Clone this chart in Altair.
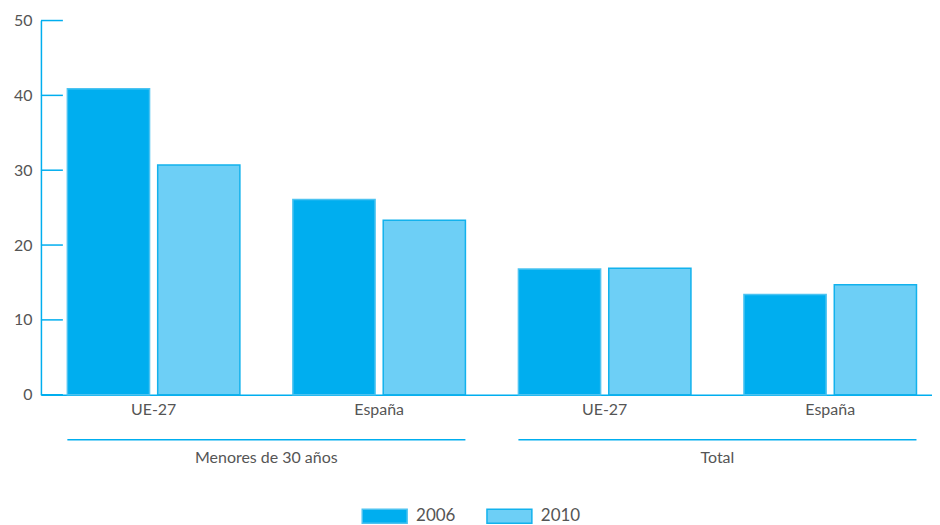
import altair as alt
import pandas as pd

# ---- data ----
groups = ["Menores de 30 años", "Menores de 30 años", "Total", "Total"]
countries = ["UE-27", "España", "UE-27", "España"]
years = ["2006", "2010"]
values_2006 = [40.9, 26.1, 16.8, 13.4]
values_2010 = [30.7, 23.3, 16.9, 14.7]
y_ticks = [0, 10, 20, 30, 40, 50]
group_names = ["Menores de 30 años", "Total"]

keys = [f"{g}|{c}" for g, c in zip(groups, countries)]

rows = []
for k, v in zip(keys, values_2006):
    rows.append({"key": k, "year": years[0], "value": v})
for k, v in zip(keys, values_2010):
    rows.append({"key": k, "year": years[1], "value": v})
bars_df = pd.DataFrame(rows)

grp_df = pd.DataFrame({
    "start": [keys[0], keys[2]],
    "end": [keys[1], keys[3]],
    "name": group_names,
})
ticks_df = pd.DataFrame({"v": y_ticks})

BLUE = "#00AEEF"
LIGHT = "#6DCFF6"
TEXT = "#555555"
FONT = "Lato"
FS = 16
W, H = 893, 375

xscale = alt.Scale(domain=keys, paddingInner=0.235, paddingOuter=0.093, align=0.63)
yscale = alt.Scale(domain=[0, 50], nice=False)

legend_kw = dict(title=None, orient="none", direction="horizontal",
                 legendX=321, legendY=473,
                 symbolType="M-1,-0.31L1,-0.31L1,0.31L-1,0.31Z",
                 symbolSize=2025, labelFontSize=17, labelColor=TEXT,
                 labelFont=FONT, labelOffset=8, columnPadding=28,
                 symbolStrokeWidth=1.5)

bars = alt.Chart(bars_df).mark_bar(strokeWidth=1.5).encode(
    x=alt.X("key:N", scale=xscale, sort=keys,
            axis=alt.Axis(title=None, labelExpr="split(datum.label, '|')[1]",
                          ticks=False, grid=False, domainColor=BLUE, domainWidth=1.5,
                          labelAngle=0, labelPadding=7, labelFontSize=FS,
                          labelColor=TEXT, labelFont=FONT)),
    xOffset=alt.XOffset("year:N", scale=alt.Scale(paddingInner=0.09)),
    y=alt.Y("value:Q", scale=yscale,
            axis=alt.Axis(title=None, values=y_ticks, ticks=False, grid=False,
                          domainColor=BLUE, domainWidth=1.5, labelPadding=9,
                          labelFontSize=FS, labelColor=TEXT, labelFont=FONT)),
    fill=alt.Fill("year:N", scale=alt.Scale(domain=years, range=[BLUE, LIGHT]),
                  legend=alt.Legend(**legend_kw)),
    stroke=alt.Stroke("year:N", scale=alt.Scale(domain=years, range=["#4cc3f1", "#12b2ed"]),
                      legend=alt.Legend(**legend_kw)),
)

yticks = alt.Chart(ticks_df).mark_rule(color=BLUE, strokeWidth=1.5).encode(
    x=alt.value(0), x2=alt.value(22), y=alt.Y("v:Q", scale=yscale)
)

grp_rule = alt.Chart(grp_df).mark_rule(color=BLUE, strokeWidth=1.5).encode(
    x=alt.X("start:N", scale=xscale, bandPosition=0),
    x2=alt.X2("end:N", bandPosition=1),
    y=alt.value(H + 45),
)

grp_text = alt.Chart(grp_df).mark_text(
    fontSize=FS, color=TEXT, font=FONT, dx=26.5, baseline="middle"
).encode(
    x=alt.X("start:N", scale=xscale, bandPosition=1),
    y=alt.value(H + 63),
    text="name:N",
)

chart = alt.layer(bars, yticks, grp_rule, grp_text).properties(
    width=W, height=H, background="white",
    padding={"left": 5, "top": 4, "right": 0, "bottom": 0}
).configure_view(stroke=None, strokeWidth=0).configure_axis(grid=False)

chart.save("out.html", embed_options={"renderer": "svg", "actions": False})
